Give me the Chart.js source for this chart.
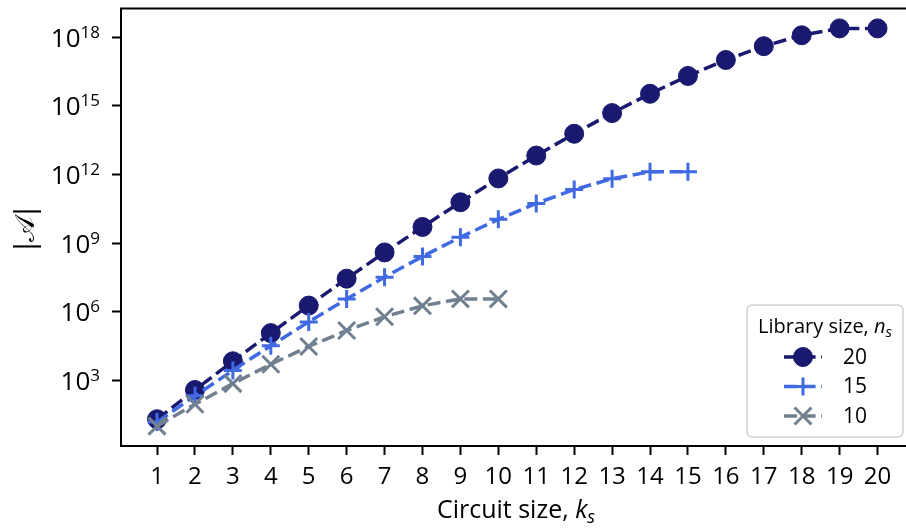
<!DOCTYPE html>
<html>
<head>
<meta charset="utf-8">
<script src="https://cdn.jsdelivr.net/npm/chart.js@4.4.1/dist/chart.umd.min.js"></script>
<style>
  html, body { margin: 0; padding: 0; background: #fff; overflow: hidden; }
  #wrap { position: relative; width: 906px; height: 530px; }
</style>
</head>
<body>
<div id="wrap"><canvas id="myChart" width="906" height="530"></canvas></div>
<script>
// circuit sizes k_s
const circuitSizes = [1, 2, 3, 4, 5, 6, 7, 8, 9, 10, 11, 12, 13, 14, 15, 16, 17, 18, 19, 20];
// |A| for library size n_s = 20, 15, 10
const lib20 = [20, 380, 6840, 116280, 1860480, 27907200, 390700800, 5079110400, 60949324800,
  670442572800, 6704425728000, 60339831552000, 482718652416000, 3379030566912000,
  20274183401472000, 101370917007360000, 405483668029440000, 1216451004088320000,
  2432902008176640000, 2432902008176640000];
const lib15 = [15, 210, 2730, 32760, 360360, 3603600, 32432400, 259459200, 1816214400,
  10897286400, 54486432000, 217945728000, 653837184000, 1307674368000, 1307674368000];
const lib10 = [10, 90, 720, 5040, 30240, 151200, 604800, 1814400, 3628800, 3628800];
const seriesLabels = ['20', '15', '10'];
const yTickExponents = [3, 6, 9, 12, 15, 18];

const FONT = '"Open Sans", "Noto Sans", sans-serif';

function toPoints(vals) {
  return vals.map((v, i) => ({ x: circuitSizes[i], y: v }));
}

// draw a run of text pieces (different fonts / offsets) in one line
function drawRich(ctx, parts, x, y, align) {
  let total = 0;
  parts.forEach(p => { ctx.font = p.font; total += ctx.measureText(p.t).width; });
  let cx = align === 'center' ? x - total / 2 : (align === 'right' ? x - total : x);
  ctx.textAlign = 'left';
  ctx.textBaseline = 'alphabetic';
  parts.forEach(p => {
    ctx.font = p.font;
    ctx.fillText(p.t, cx, y + (p.dy || 0));
    cx += ctx.measureText(p.t).width;
  });
}

const extras = {
  id: 'extras',
  afterDraw(chart) {
    const ctx = chart.ctx;
    const area = chart.chartArea;
    const xScale = chart.scales.x;
    const yScale = chart.scales.y;
    ctx.save();
    ctx.fillStyle = '#000';

    // top spine
    ctx.strokeStyle = '#000';
    ctx.lineWidth = 2;
    ctx.beginPath();
    ctx.moveTo(area.left - 1, area.top);
    ctx.lineTo(area.right, area.top);
    ctx.stroke();

    // x tick labels
    ctx.font = '24px ' + FONT;
    ctx.textAlign = 'center';
    ctx.textBaseline = 'alphabetic';
    circuitSizes.forEach(k => {
      ctx.fillText(String(k), xScale.getPixelForValue(k), area.bottom + 38);
    });

    // y tick labels 10^n
    yTickExponents.forEach(e => {
      const py = yScale.getPixelForValue(Math.pow(10, e));
      const base = py + 9.5;
      drawRich(ctx, [
        { t: '10', font: '26px ' + FONT },
        { t: String(e), font: '17px ' + FONT, dy: -9 }
      ], area.left - 21, base, 'right');
    });

    // x axis label
    drawRich(ctx, [
      { t: 'Circuit size, ', font: '25px ' + FONT },
      { t: 'k', font: 'italic 25px ' + FONT },
      { t: 's', font: 'italic 18px ' + FONT, dy: 5 }
    ], 516, 518, 'center');

    // y axis label
    ctx.save();
    ctx.translate(34, 229);
    ctx.rotate(-Math.PI / 2);
    ctx.font = '27px "DejaVu Serif", "DejaVu Sans", serif';
    ctx.textAlign = 'center';
    ctx.textBaseline = 'alphabetic';
    ctx.fillText('|\u{1D49C}|', 0, 0);
    ctx.restore();

    // legend box, lower right
    const bx = area.right - 159, by = area.bottom - 141, bw = 156, bh = 132;
    ctx.beginPath();
    ctx.roundRect(bx, by, bw, bh, 5);
    ctx.fillStyle = 'rgba(255,255,255,0.8)';
    ctx.fill();
    ctx.strokeStyle = '#d0d0d0';
    ctx.lineWidth = 1.5;
    ctx.stroke();
    ctx.fillStyle = '#000';
    drawRich(ctx, [
      { t: 'Library size, ', font: '20px ' + FONT },
      { t: 'n', font: 'italic 20px ' + FONT },
      { t: 's', font: 'italic 15px ' + FONT, dy: 4 }
    ], bx + bw / 2, by + 28, 'center');

    chart.data.datasets.forEach((ds, i) => {
      const ry = by + 52 + i * 29.5;
      ctx.save();
      ctx.strokeStyle = ds.borderColor;
      ctx.lineWidth = ds.borderWidth;
      ctx.setLineDash(ds.borderDash);
      ctx.beginPath();
      ctx.moveTo(bx + 37, ry);
      ctx.lineTo(bx + 75, ry);
      ctx.stroke();
      ctx.setLineDash([]);
      ctx.fillStyle = ds.pointBackgroundColor;
      ctx.strokeStyle = ds.pointBorderColor;
      ctx.lineWidth = ds.pointBorderWidth;
      Chart.helpers.drawPoint(ctx, {
        pointStyle: ds.pointStyle, radius: ds.pointRadius, rotation: 0,
        borderWidth: ds.pointBorderWidth
      }, bx + 56, ry);
      ctx.restore();
      ctx.font = '21px ' + FONT;
      ctx.textAlign = 'left';
      ctx.textBaseline = 'middle';
      ctx.fillStyle = '#000';
      ctx.fillText(ds.label, bx + 96, ry + 1);
    });
    ctx.restore();
  }
};

const ctx = document.getElementById('myChart').getContext('2d');
const myChart = new Chart(ctx, {
  type: 'line',
  data: {
    datasets: [
      {
        label: seriesLabels[0], data: toPoints(lib20), order: 3, fill: false,
        borderColor: '#191970', backgroundColor: '#191970',
        borderWidth: 3.5, borderDash: [13, 5.6],
        pointStyle: 'circle', pointRadius: 9.5, pointHoverRadius: 9.5,
        pointBackgroundColor: '#191970', pointBorderColor: '#191970', pointBorderWidth: 1
      },
      {
        label: seriesLabels[1], data: toPoints(lib15), order: 2, fill: false,
        borderColor: '#4169e1', backgroundColor: '#4169e1',
        borderWidth: 3.5, borderDash: [13, 5.6],
        pointStyle: 'cross', pointRadius: 9, pointHoverRadius: 9,
        pointBackgroundColor: '#4169e1', pointBorderColor: '#4169e1', pointBorderWidth: 3
      },
      {
        label: seriesLabels[2], data: toPoints(lib10), order: 1, fill: false,
        borderColor: '#708090', backgroundColor: '#708090',
        borderWidth: 3.5, borderDash: [13, 5.6],
        pointStyle: 'crossRot', pointRadius: 12, pointHoverRadius: 12,
        pointBackgroundColor: '#708090', pointBorderColor: '#708090', pointBorderWidth: 3
      }
    ]
  },
  options: {
    responsive: false,
    animation: false,
    maintainAspectRatio: false,
    layout: { autoPadding: false, padding: { top: 8.5, right: 0, bottom: 0, left: 0 } },
    plugins: { legend: { display: false }, tooltip: { enabled: false } },
    elements: { line: { tension: 0 } },
    scales: {
      x: {
        type: 'linear', min: 0.05, max: 20.75,
        afterBuildTicks: s => { s.ticks = circuitSizes.map(v => ({ value: v })); },
        afterFit: s => { s.height = 84; },
        grid: { drawOnChartArea: false, drawTicks: true, tickLength: 9, tickWidth: 2, tickColor: '#000' },
        border: { display: true, color: '#000', width: 2 },
        ticks: { display: false }
      },
      y: {
        type: 'logarithmic', min: Math.pow(10, 0.131), max: Math.pow(10, 19.255),
        afterBuildTicks: s => { s.ticks = yTickExponents.map(e => ({ value: Math.pow(10, e) })); },
        afterFit: s => { s.width = 121; },
        grid: { drawOnChartArea: false, drawTicks: true, tickLength: 9, tickWidth: 2, tickColor: '#000' },
        border: { display: true, color: '#000', width: 2 },
        ticks: { display: false }
      }
    }
  },
  plugins: [extras]
});
</script>
</body>
</html>
